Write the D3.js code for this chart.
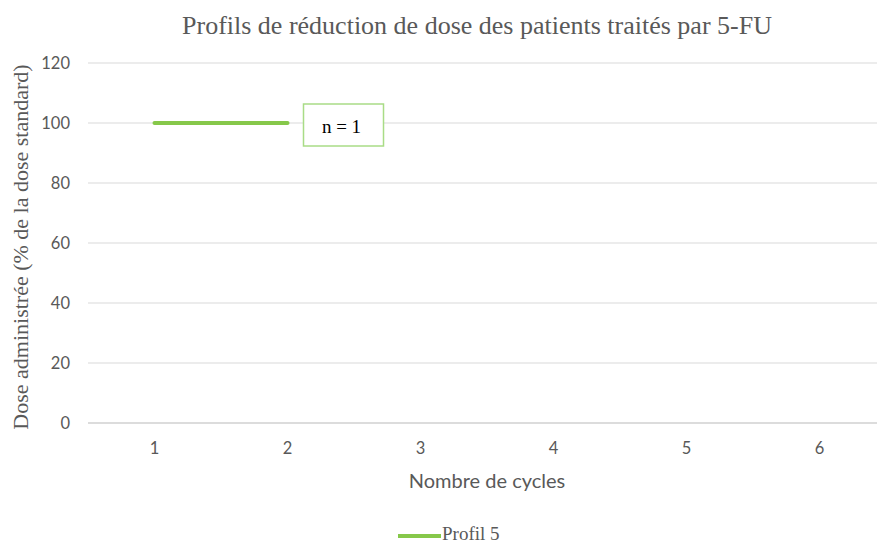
<!DOCTYPE html>
<html>
<head>
<meta charset="utf-8">
<script src="https://cdn.jsdelivr.net/npm/d3@7"></script>
<style>
  body { margin: 0; background: #fff; }
  .tick text { fill: #595959; font-family: Lato, "Open Sans", sans-serif; font-size: 16.5px; }
  .serif { font-family: "Liberation Serif", "Times New Roman", serif; fill: #595959; }
</style>
</head>
<body>
<div id="chart"></div>
<script>
var cycles = [1, 2, 3, 4, 5, 6]
var yTicks = [0, 20, 40, 60, 80, 100, 120]
var profilName = "Profil 5"
var profilCycles = [1, 2]
var profilValues = [100, 100]
var annotation = "n = 1"

var W = 877, H = 544
var margin = { left: 88, right: -10, top: 63, bottom: 121 }
var width = W - margin.left - margin.right,
    height = H - margin.top - margin.bottom

var svg = d3.select("#chart").append("svg")
    .attr("width", W)
    .attr("height", H)

var g = svg.append("g")
    .attr("transform", "translate(" + margin.left + "," + margin.top + ")")

var x = d3.scaleBand()
    .domain(cycles)
    .range([0, 133 * 6])
    .padding(0)

var y = d3.scaleLinear()
    .domain([0, 120])
    .range([height, 0])

// grid lines
g.append("g")
    .selectAll("line")
    .data(yTicks)
    .enter()
        .append("line")
        .attr("x1", 0)
        .attr("x2", 133 * 6)
        .attr("y1", d => y(d))
        .attr("y2", d => y(d))
        .attr("stroke", d => d == 0 ? "#d0d0d0" : "#d9d9d9")
        .attr("stroke-width", d => d == 0 ? 1.5 : 1)

var yAxis = g.append("g")
    .call(d3.axisLeft(y).tickValues(yTicks).tickSize(0).tickPadding(18))
yAxis.select(".domain").remove()

var xAxis = g.append("g")
    .attr("transform", "translate(0," + height + ")")
    .call(d3.axisBottom(x).tickSize(0).tickPadding(19))
xAxis.select(".domain").remove()

// title
svg.append("text")
    .attr("class", "serif")
    .attr("x", 477)
    .attr("y", 34)
    .attr("text-anchor", "middle")
    .attr("font-size", "26px")
    .text("Profils de réduction de dose des patients traités par 5-FU")

svg.append("text")
    .attr("class", "serif")
    .attr("transform", "translate(28," + (margin.top + height / 2 + 4) + ") rotate(-90)")
    .attr("text-anchor", "middle")
    .attr("font-size", "22px")
    .text("Dose administrée (% de la dose standard)")

svg.append("text")
    .attr("x", 487)
    .attr("y", 488)
    .attr("text-anchor", "middle")
    .attr("fill", "#595959")
    .attr("font-family", "Lato, 'Open Sans', sans-serif")
    .attr("font-size", "20px")
    .text("Nombre de cycles")

// series
var line = d3.line()
    .x(d => x(d[0]) + x.bandwidth() / 2)
    .y(d => y(d[1]))

g.append("path")
    .datum(profilCycles.map((c, i) => [c, profilValues[i]]))
    .attr("d", line)
    .attr("fill", "none")
    .attr("stroke", "#86c84a")
    .attr("stroke-width", 4)
    .attr("stroke-linecap", "round")

// annotation box
var bx = x(2) + x.bandwidth() / 2 + 16
var by = y(100)
g.append("rect")
    .attr("x", bx)
    .attr("y", by - 19)
    .attr("width", 80)
    .attr("height", 42)
    .attr("fill", "#fff")
    .attr("stroke", "#a9dc86")
    .attr("stroke-width", 1.5)
g.append("text")
    .attr("x", bx + 38)
    .attr("y", by + 10)
    .attr("text-anchor", "middle")
    .attr("font-family", "'Liberation Serif', serif")
    .attr("font-size", "19px")
    .attr("fill", "#000")
    .text(annotation)

// legend
var lg = svg.append("g").attr("transform", "translate(398,536)")
lg.append("line")
    .attr("x1", 0).attr("x2", 43)
    .attr("y1", 0).attr("y2", 0)
    .attr("stroke", "#86c84a")
    .attr("stroke-width", 4)
lg.append("text")
    .attr("class", "serif")
    .attr("x", 44)
    .attr("y", 4)
    .attr("font-size", "19px")
    .text(profilName)
</script>
</body>
</html>
